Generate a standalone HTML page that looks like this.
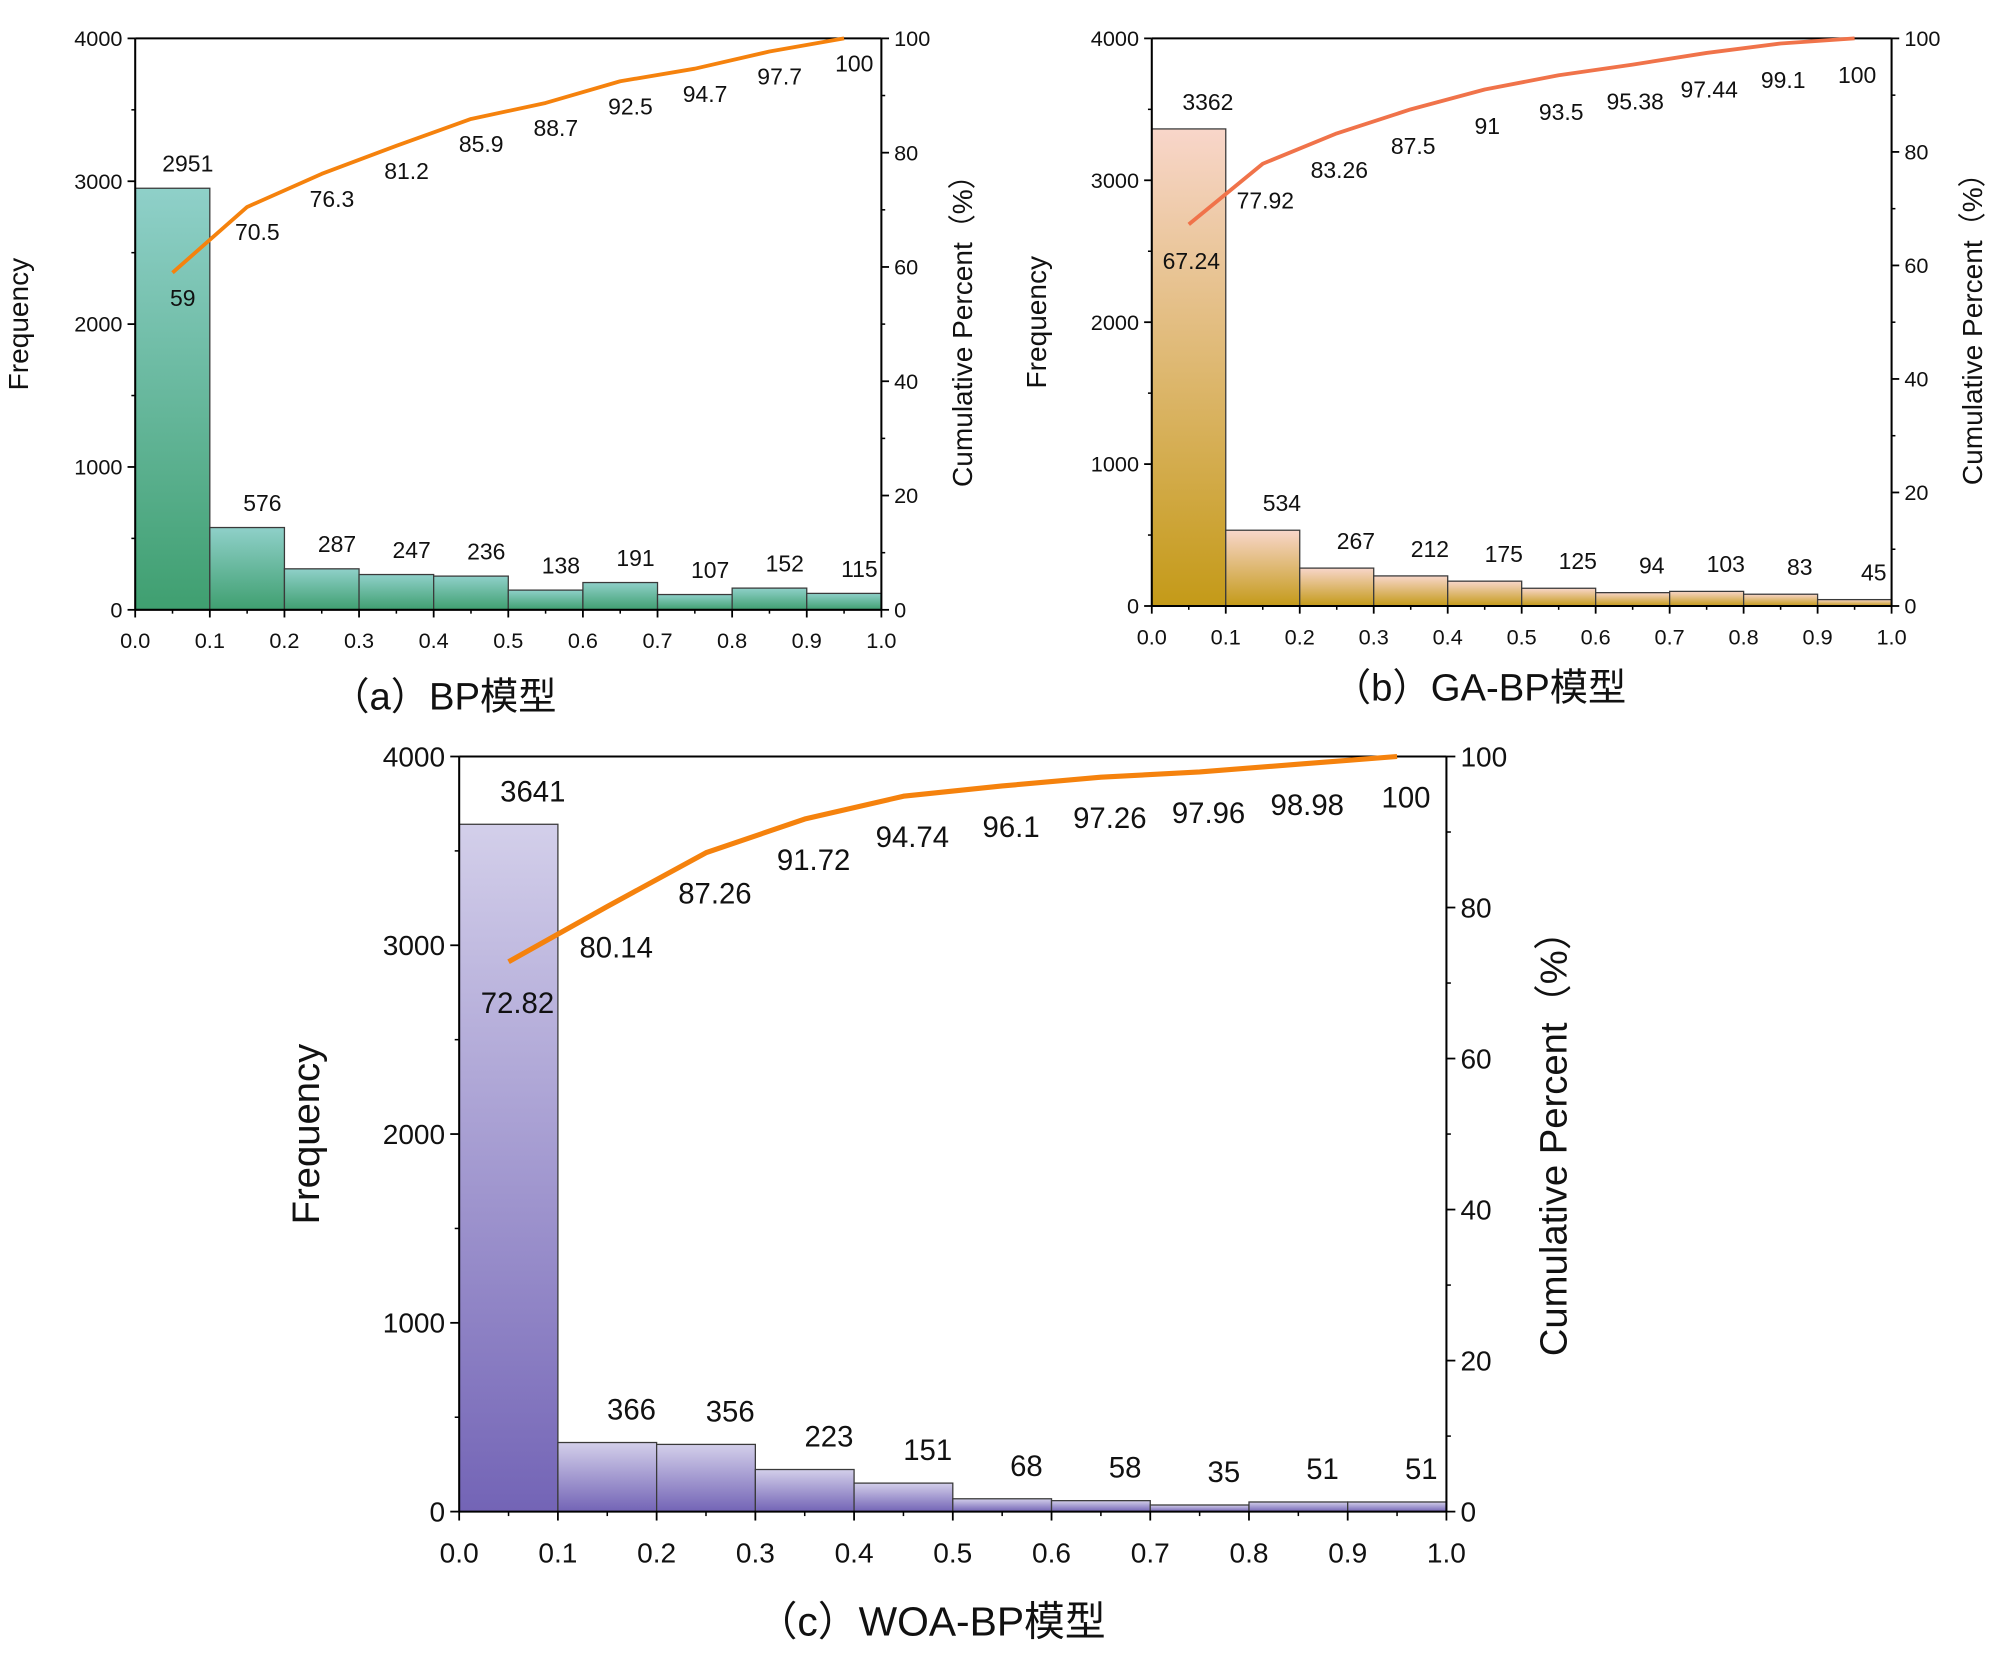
<!DOCTYPE html>
<html><head><meta charset="utf-8"><style>
html,body{margin:0;padding:0;background:#fff;}
svg{display:block;}
text{font-family:"Liberation Sans","Noto Sans CJK SC",sans-serif;fill:#111;}
</style></head><body>
<svg id="fig" width="2000" height="1675" viewBox="0 0 1568 1313" xmlns="http://www.w3.org/2000/svg">
<defs>
<linearGradient id="gA" x1="0" y1="0" x2="0" y2="1"><stop offset="0" stop-color="#8fd0c9"/><stop offset="1" stop-color="#3f9f70"/></linearGradient>
<linearGradient id="gB" x1="0" y1="0" x2="0" y2="1"><stop offset="0" stop-color="#f8d6ca"/><stop offset="1" stop-color="#c49a18"/></linearGradient>
<linearGradient id="gC" x1="0" y1="0" x2="0" y2="1"><stop offset="0" stop-color="#d3cfea"/><stop offset="1" stop-color="#7364b6"/></linearGradient>
</defs>
</svg>
<script>
const binStarts=[0,0.1,0.2,0.3,0.4,0.5,0.6,0.7,0.8,0.9];
const freqA=[2951,576,287,247,236,138,191,107,152,115];
const cumA=[59,70.5,76.3,81.2,85.9,88.7,92.5,94.7,97.7,100];
const cumLabelsA=["59","70.5","76.3","81.2","85.9","88.7","92.5","94.7","97.7","100"];
const freqB=[3362,534,267,212,175,125,94,103,83,45];
const cumB=[67.24,77.92,83.26,87.5,91,93.5,95.38,97.44,99.1,100];
const cumLabelsB=["67.24","77.92","83.26","87.5","91","93.5","95.38","97.44","99.1","100"];
const freqC=[3641,366,356,223,151,68,58,35,51,51];
const cumC=[72.82,80.14,87.26,91.72,94.74,96.1,97.26,97.96,98.98,100];
const cumLabelsC=["72.82","80.14","87.26","91.72","94.74","96.1","97.26","97.96","98.98","100"];
const freqTicks=[0,1000,2000,3000,4000];
const pctTicks=[0,20,40,60,80,100];
const xTicks=["0.0","0.1","0.2","0.3","0.4","0.5","0.6","0.7","0.8","0.9","1.0"];

const svg=document.getElementById('fig');
const NS='http://www.w3.org/2000/svg';
function mk(tag,attrs,parent){const e=document.createElementNS(NS,tag);for(const k in attrs)e.setAttribute(k,attrs[k]);(parent||svg).appendChild(e);return e;}
function txt(s,x,y,fs,parent,anchor,rot){const t=mk('text',{x:x,y:y,'font-size':fs,'text-anchor':anchor||'middle'},parent);if(rot)t.setAttribute('transform','rotate(-90 '+x+' '+y+')');t.textContent=s;return t;}

function chart(c,freq,cum,cumLabels){
  const g=mk('g',{});
  
  
  const X=v=>c.x0+v*(c.x1-c.x0);
  const Y=v=>c.y0-v/4000*(c.y0-c.y1);
  const P=v=>c.y0-v/100*(c.y0-c.y1);
  freq.forEach((f,i)=>{
    const r=mk('rect',{x:X(binStarts[i]),y:Y(f),width:X(binStarts[i]+0.1)-X(binStarts[i]),height:c.y0-Y(f),fill:'url(#'+c.grad+')',stroke:'#3a3a3a','stroke-width':1},g);
    
    
    const t=txt(String(f),X(binStarts[i]+0.05)+c.fdx,Y(f)-c.fLab,c.fs,g);
    
    
  });
  mk('line',{x1:c.x0,y1:c.y0,x2:c.x1,y2:c.y0,stroke:'#000','stroke-width':1.6},g);
  mk('line',{x1:c.x0,y1:c.y0,x2:c.x0,y2:c.y1,stroke:'#000','stroke-width':1.6},g);
  mk('line',{x1:c.x1,y1:c.y0,x2:c.x1,y2:c.y1,stroke:'#000','stroke-width':1.6},g);
  mk('line',{x1:c.x0,y1:c.y1,x2:c.x1,y2:c.y1,stroke:'#000','stroke-width':1.6},g);
  xTicks.forEach((s,i)=>{
    const x=X(i/10);
    mk('line',{x1:x,y1:c.y0,x2:x,y2:c.y0+c.tk,stroke:'#000','stroke-width':1.4},g);
    if(i<10){const xm=X(i/10+0.05);mk('line',{x1:xm,y1:c.y0,x2:xm,y2:c.y0+c.tk/2,stroke:'#000','stroke-width':1.2},g);}
    txt(s,x,c.y0+c.xl,c.ts,g);
  });
  freqTicks.forEach((v,i)=>{
    const y=Y(v);
    mk('line',{x1:c.x0,y1:y,x2:c.x0-c.tk,y2:y,stroke:'#000','stroke-width':1.4},g);
    if(i<4){const ym=Y(v+500);mk('line',{x1:c.x0,y1:ym,x2:c.x0-c.tk/2,y2:ym,stroke:'#000','stroke-width':1.2},g);}
    txt(String(v),c.x0-c.tk-4,y+c.ts*0.35,c.ts,g,'end');
  });
  pctTicks.forEach((v,i)=>{
    const y=P(v);
    mk('line',{x1:c.x1,y1:y,x2:c.x1+c.tk,y2:y,stroke:'#000','stroke-width':1.4},g);
    if(i<5){const ym=P(v+10);mk('line',{x1:c.x1,y1:ym,x2:c.x1+c.tk/2,y2:ym,stroke:'#000','stroke-width':1.2},g);}
    txt(String(v),c.x1+c.tk+4,y+c.ts*0.35,c.ts,g,'start');
  });
  const pts=cum.map((v,i)=>X(binStarts[i]+0.05)+','+P(v)).join(' ');
  const pl=mk('polyline',{points:pts,fill:'none',stroke:c.lc,'stroke-width':c.lw,'stroke-linejoin':'round'},g);
  
  
  cum.forEach((v,i)=>{
    const t=txt(cumLabels[i],X(binStarts[i]+0.05)+c.cdx,P(v)+c.cdy,c.fs,g);
    
    
  });
  const yt=txt('Frequency',c.fx,(c.y0+c.y1)/2,c.afs,g,'middle',true);
  
  
  const rt=txt('Cumulative Percent（%）',c.cx,(c.y0+c.y1)/2,c.afs,g,'middle',true);
  
  
  const cap=txt(c.cap,c.capx,c.capy,c.capfs,g);
  
  
}
chart({name:'chart-bp',x0:106,x1:691,y0:478,y1:30,grad:'gA',lc:'#f5820d',lw:3,fs:18,ts:17,tk:6,xl:30,fLab:13,fdx:12,cdx:8,cdy:26,fx:22,cx:762,afs:22,cap:'（a）BP模型',capx:348,capy:556,capfs:30},freqA,cumA,cumLabelsA);
chart({name:'chart-ga-bp',x0:903,x1:1483,y0:475,y1:30,grad:'gB',lc:'#f0734a',lw:3,fs:18,ts:17,tk:6,xl:30,fLab:15,fdx:15,cdx:2,cdy:35,fx:820,cx:1554,afs:22,cap:'（b）GA-BP模型',capx:1160,capy:549,capfs:30},freqB,cumB,cumLabelsB);
chart({name:'chart-woa-bp',x0:360,x1:1134,y0:1185,y1:593,grad:'gC',lc:'#f5820d',lw:4,fs:23,ts:22,tk:7,xl:40,fLab:18,fdx:19,cdx:7,cdy:40,fx:250,cx:1228,afs:30,cap:'（c）WOA-BP模型',capx:730,capy:1282,capfs:32},freqC,cumC,cumLabelsC);
</script>
</body></html>
